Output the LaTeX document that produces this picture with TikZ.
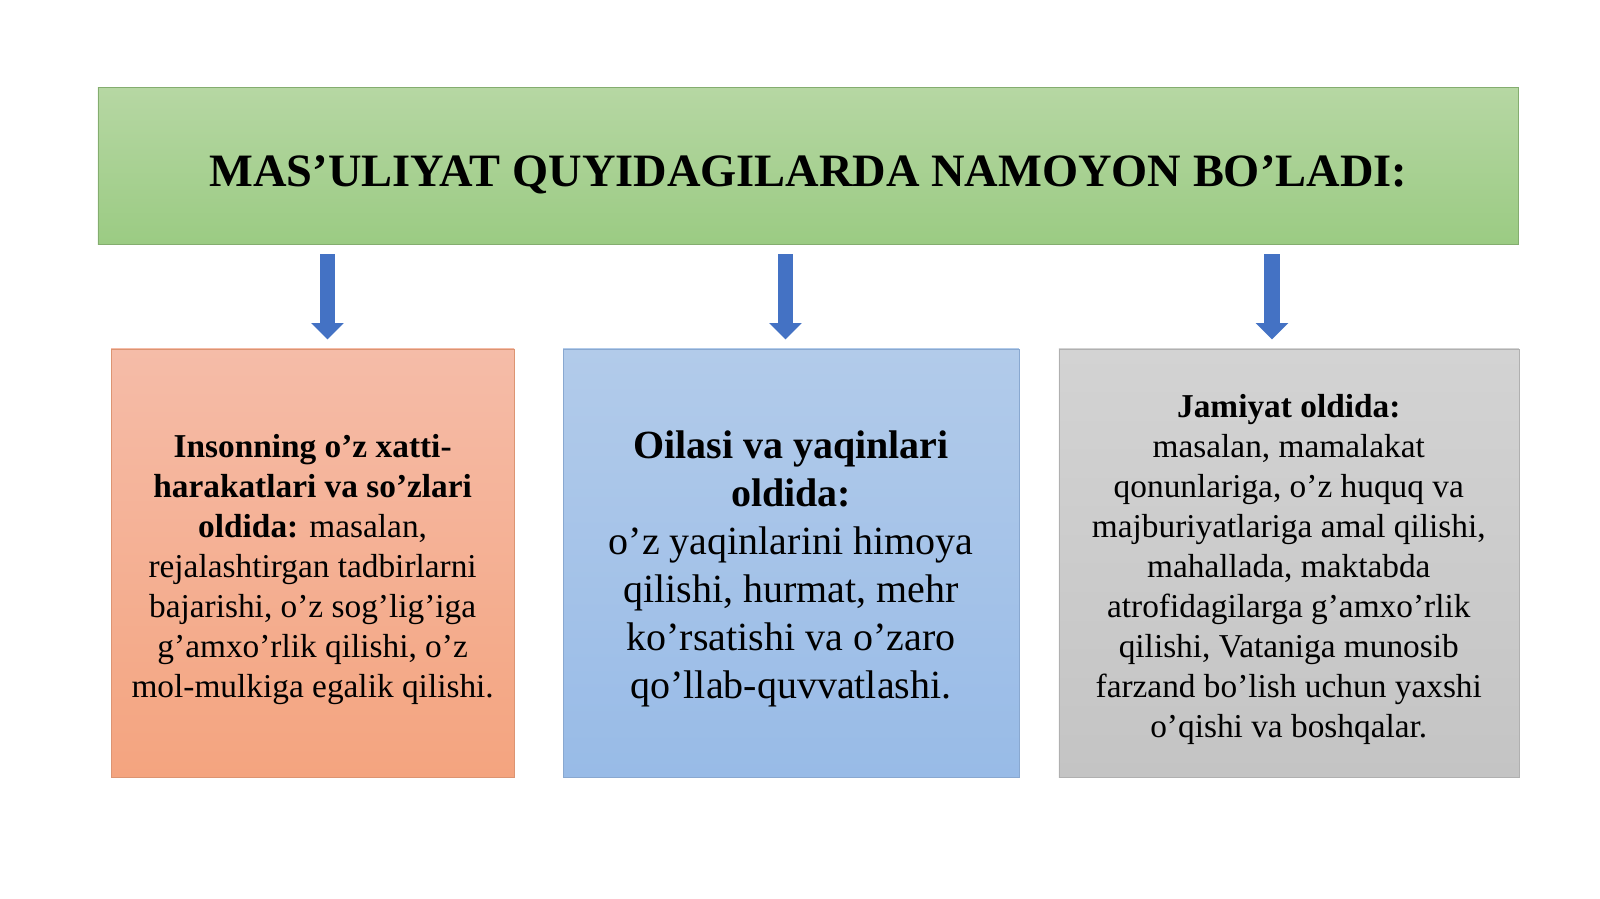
\documentclass[tikz,border=0pt]{standalone}
\usepackage{fontspec}
\setmainfont{Liberation Serif}
\usetikzlibrary{arrows.meta}
\definecolor{gtop}{HTML}{B6D7A3}
\definecolor{gbot}{HTML}{9BCB83}
\definecolor{otop}{HTML}{F5BCA8}
\definecolor{obot}{HTML}{F4A47F}
\definecolor{btop}{HTML}{B2CBEA}
\definecolor{bbot}{HTML}{98BBE7}
\definecolor{ktop}{HTML}{D3D3D3}
\definecolor{kbot}{HTML}{C4C4C4}
\definecolor{arrowblue}{HTML}{4472C4}
\tikzset{
  panel/.style={rectangle, inner sep=0pt, line width=0.5pt},
  bodytext/.style={inner sep=0pt, align=center, text=black},
  smalltext/.style={bodytext, font=\fontsize{32.7}{39.2}\selectfont},
  bigtext/.style={bodytext, font=\fontsize{39.2}{47}\selectfont},
  downarrow/.style={draw=arrowblue, line width=15.5pt, -{Triangle[width=31pt,length=16pt]}}
}
\begin{document}
\begin{tikzpicture}[x=1pt,y=-1pt]
\fill[white] (0,0) rectangle (1568.63,881.37);
% header
\node[panel, top color=gtop, bottom color=gbot, draw=gbot!85!black, line width=0.8pt,
  minimum width=1393pt, minimum height=154pt] (title) at (792.5,163) {};
\node[bodytext, font=\fontsize{45.5}{50}\selectfont\bfseries] (titletext)
  at ([yshift=-8pt]title.center) {MAS’ULIYAT QUYIDAGILARDA NAMOYON BO’LADI:};
% boxes
\node[panel, top color=otop, bottom color=obot, draw=obot!90!black,
  minimum width=395pt, minimum height=420pt] (left) at (306.5,552) {};
\node[smalltext] (lefttext) at ([yshift=-6pt]left.center)
  {\textbf{Insonning o’z xatti-}\\
   \textbf{harakatlari va so’zlari}\\
   \textbf{oldida:} masalan,\\
   rejalashtirgan tadbirlarni\\
   bajarishi, o’z sog’lig’iga\\
   g’amxo’rlik qilishi, o’z\\
   mol-mulkiga egalik qilishi.};
\node[panel, top color=btop, bottom color=bbot, draw=bbot!90!black,
  minimum width=447pt, minimum height=420pt] (mid) at (775.5,552) {};
\node[bigtext] (midtext) at ([yshift=-6pt]mid.center)
  {\textbf{Oilasi va yaqinlari}\\
   \textbf{oldida:}\\
   o’z yaqinlarini himoya\\
   qilishi, hurmat, mehr\\
   ko’rsatishi va o’zaro\\
   qo’llab-quvvatlashi.};
\node[panel, top color=ktop, bottom color=kbot, draw=kbot!90!black,
  minimum width=451pt, minimum height=420pt] (right) at (1263.5,552) {};
\node[smalltext] (righttext) at ([yshift=-6pt]right.center)
  {\textbf{Jamiyat oldida:}\\
   masalan, mamalakat\\
   qonunlariga, o’z huquq va\\
   majburiyatlariga amal qilishi,\\
   mahallada, maktabda\\
   atrofidagilarga g’amxo’rlik\\
   qilishi, Vataniga munosib\\
   farzand bo’lish uchun yaxshi\\
   o’qishi va boshqalar.};
% arrows
\coordinate (a1) at (321,0);
\coordinate (a2) at (770,0);
\coordinate (a3) at (1247,0);
\draw[downarrow] ([yshift=-9pt]title.south -| a1) -- ([yshift=9pt]left.north -| a1);
\draw[downarrow] ([yshift=-9pt]title.south -| a2) -- ([yshift=9pt]mid.north -| a2);
\draw[downarrow] ([yshift=-9pt]title.south -| a3) -- ([yshift=9pt]right.north -| a3);
\pgfresetboundingbox
\useasboundingbox (0,0) rectangle (1568.63,881.37);
\end{tikzpicture}
\end{document}
